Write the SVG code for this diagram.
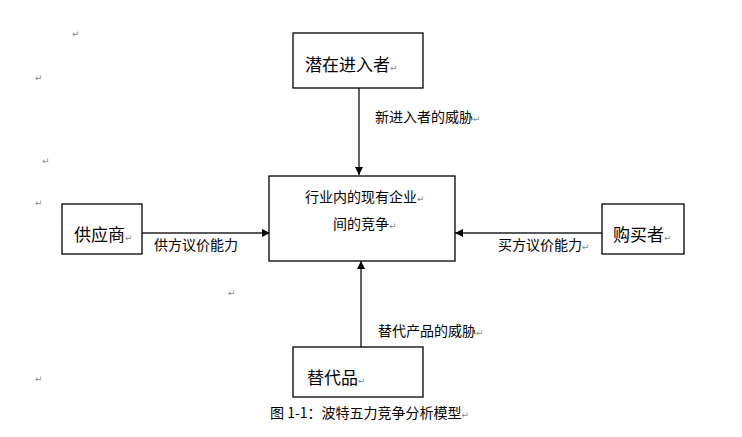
<svg xmlns="http://www.w3.org/2000/svg" width="742" height="437" viewBox="0 0 742 437">
<style>
.box{fill:#fff;stroke:#000;stroke-width:1.3}
.t{font-family:"Noto Sans CJK SC","Liberation Sans",sans-serif;fill:#000}
.big{font-size:17px}
.sm{font-size:14px}
.pm{font-family:"DejaVu Sans",sans-serif;font-size:9px;fill:#888}
.conn{stroke:#222;stroke-width:1.4;fill:none}
</style>
<defs>
<marker id="ah" viewBox="0 0 10 10" refX="10" refY="5" markerWidth="8" markerHeight="8" markerUnits="userSpaceOnUse" orient="auto">
<path d="M0,0 L10,5 L0,10 z" fill="#000"/>
</marker>
</defs>
<rect width="742" height="437" fill="#fff"/>
<g id="marks">
<text class="pm" x="72" y="37">↵</text>
<text class="pm" x="35" y="81">↵</text>
<text class="pm" x="42" y="164">↵</text>
<text class="pm" x="35" y="206">↵</text>
<text class="pm" x="228" y="296">↵</text>
<text class="pm" x="35" y="382">↵</text>
</g>
<g id="connectors">
<line class="conn" x1="359" y1="88" x2="359" y2="175" marker-end="url(#ah)"/>
<line class="conn" x1="142" y1="233" x2="270" y2="233" marker-end="url(#ah)"/>
<line class="conn" x1="602" y1="233" x2="455" y2="233" marker-end="url(#ah)"/>
<line class="conn" x1="361" y1="347" x2="361" y2="261" marker-end="url(#ah)"/>
<text class="t sm" x="375" y="122">新进入者的威胁<tspan class="pm">↵</tspan></text>
<text class="t sm" x="154" y="250">供方议价能力</text>
<text class="t sm" x="498" y="250">买方议价能力<tspan class="pm">↵</tspan></text>
<text class="t sm" x="378" y="336">替代产品的威胁<tspan class="pm">↵</tspan></text>
</g>
<g id="entrants">
<rect class="box" x="293" y="33" width="130" height="55"/>
<text class="t big" x="305" y="71">潜在进入者<tspan class="pm">↵</tspan></text>
</g>
<g id="industry">
<rect class="box" x="269" y="176" width="186" height="85"/>
<text class="t sm" x="305" y="202">行业内的现有企业<tspan class="pm">↵</tspan></text>
<text class="t sm" x="333" y="229">间的竞争<tspan class="pm">↵</tspan></text>
</g>
<g id="suppliers">
<rect class="box" x="62" y="204" width="80" height="50"/>
<text class="t big" x="74" y="241">供应商<tspan class="pm">↵</tspan></text>
</g>
<g id="buyers">
<rect class="box" x="602" y="204" width="82" height="50"/>
<text class="t big" x="613" y="241">购买者<tspan class="pm">↵</tspan></text>
</g>
<g id="substitutes">
<rect class="box" x="293" y="347" width="130" height="50"/>
<text class="t big" x="307" y="384">替代品<tspan class="pm">↵</tspan></text>
</g>
<text class="t sm" x="270" y="418">图 1-1：波特五力竞争分析模型<tspan class="pm">↵</tspan></text>
</svg>
